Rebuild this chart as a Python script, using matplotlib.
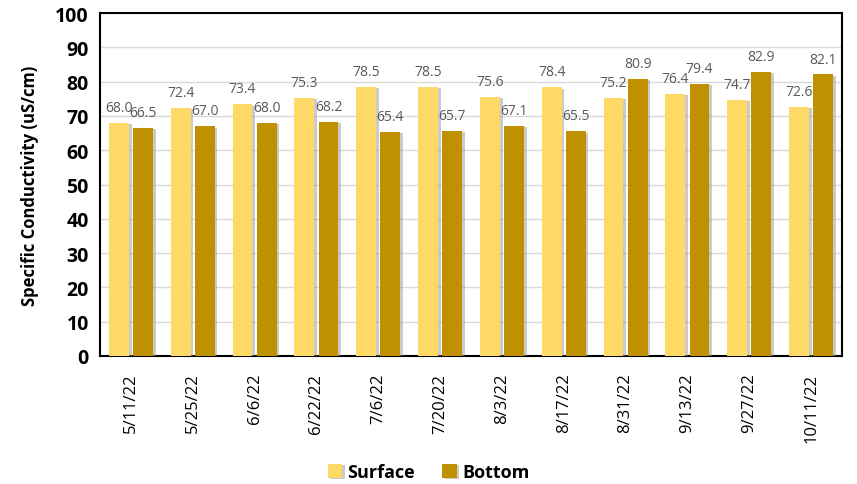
import numpy as np
import matplotlib.pyplot as plt
import matplotlib.patheffects as pe

# data
dates = ["5/11/22", "5/25/22", "6/6/22", "6/22/22", "7/6/22", "7/20/22",
         "8/3/22", "8/17/22", "8/31/22", "9/13/22", "9/27/22", "10/11/22"]
surface = [68.0, 72.4, 73.4, 75.3, 78.5, 78.5, 75.6, 78.4, 75.2, 76.4, 74.7, 72.6]
bottom = [66.5, 67.0, 68.0, 68.2, 65.4, 65.7, 67.1, 65.5, 80.9, 79.4, 82.9, 82.1]

plt.rcParams['font.family'] = ['Open Sans', 'DejaVu Sans']

fig = plt.figure(figsize=(8.57, 4.85), dpi=100)
ax = fig.add_axes([0.1167, 0.264, 0.8658, 0.707])

x = np.arange(len(dates))
w = 0.32
off = 0.195
shadow = [pe.SimplePatchShadow(offset=(2, -1), shadow_rgbFace="#999999", alpha=0.5), pe.Normal()]

b1 = ax.bar(x - off, surface, w, color="#FFD966", label="Surface", zorder=3)
b2 = ax.bar(x + off, bottom, w, color="#BF9000", label="Bottom", zorder=3)
for b in list(b1) + list(b2):
    b.set_path_effects(shadow)

# value labels above each bar
for bars, vals in ((b1, surface), (b2, bottom)):
    for b, v in zip(bars, vals):
        ax.text(b.get_x() + b.get_width() / 2, v + 2.3, f"{v:.1f}",
                ha="center", va="bottom", fontsize=10, color="#595959", zorder=4)

ax.set_xlim(-0.5, len(dates) - 0.5)
ax.set_ylim(0, 100)
ax.set_yticks(np.arange(0, 101, 10))
ax.yaxis.grid(True, color="#D9D9D9", linewidth=1, zorder=0)
ax.set_axisbelow(True)
ax.tick_params(axis="both", length=0)
ax.tick_params(axis="y", labelsize=14, pad=8)
for t in ax.get_yticklabels():
    t.set_fontweight("bold")
ax.set_xticks(x)
ax.set_xticklabels(dates, rotation=90, fontsize=12)
ax.tick_params(axis="x", pad=12)
for s in ax.spines.values():
    s.set_linewidth(1.5)
    s.set_color("black")

ax.set_ylabel("Specific Conductivity (uS/cm)", fontsize=12, fontweight="bold", labelpad=12)

fig.legend(handles=[b1, b2], loc="center", bbox_to_anchor=(0.5, 0.025), ncol=2,
           frameon=False, prop={"weight": "bold", "size": 13},
           handlelength=0.8, handleheight=0.8, handletextpad=0.3, columnspacing=1.5)

fig.savefig("out.png", dpi=100)
